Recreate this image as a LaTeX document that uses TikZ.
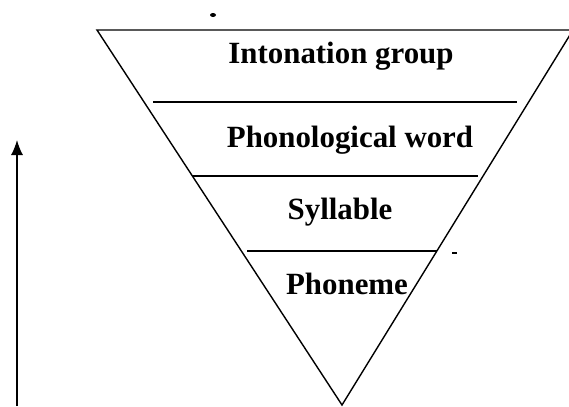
\documentclass[tikz,border=0pt]{standalone}
\usepackage{fontspec}
\setmainfont{Liberation Serif}
\usetikzlibrary{arrows.meta}
\begin{document}
\begin{tikzpicture}[x=1bp,y=-1bp,line width=1.4bp,
  lvl/.style={font=\bfseries\fontsize{31}{31}\selectfont,anchor=base,inner sep=0pt},
  divider/.style={line width=1.5bp}]
\useasboundingbox (0,0) rectangle (569,406);
\clip (0,0) rectangle (569,406);
% triangle
\coordinate (tl) at (97,30);
\coordinate (tr) at (573,30);
\coordinate (apex) at (342,405);
\draw[line join=miter] (tl) -- (tr) -- (apex) -- cycle;
% dividers
\coordinate (d1a) at (153,102); \coordinate (d1b) at (517,102);
\coordinate (d2a) at (192,176); \coordinate (d2b) at (478,176);
\coordinate (d3a) at (247,251); \coordinate (d3b) at (437,251);
\draw[divider] (d1a) -- (d1b);
\draw[divider] (d2a) -- (d2b);
\draw[divider] (d3a) -- (d3b);
% labels
\node[lvl] (ig) at (341,63) {Intonation group};
\node[lvl] (pw) at (350,147) {Phonological word};
\node[lvl] (sy) at (340,219) {Syllable};
\node[lvl] (ph) at (347,294) {Phoneme};
% arrow
\coordinate (abot) at (17,406);
\coordinate (atop) at (17,140);
\draw[line width=1.3bp,-{Latex[length=15bp,width=12bp]}] (abot) -- (atop);
% specks
\fill (213,15) ellipse (3bp and 2bp);
\draw[line width=1.2bp] (452,253) -- (457,253);
\end{tikzpicture}
\end{document}
